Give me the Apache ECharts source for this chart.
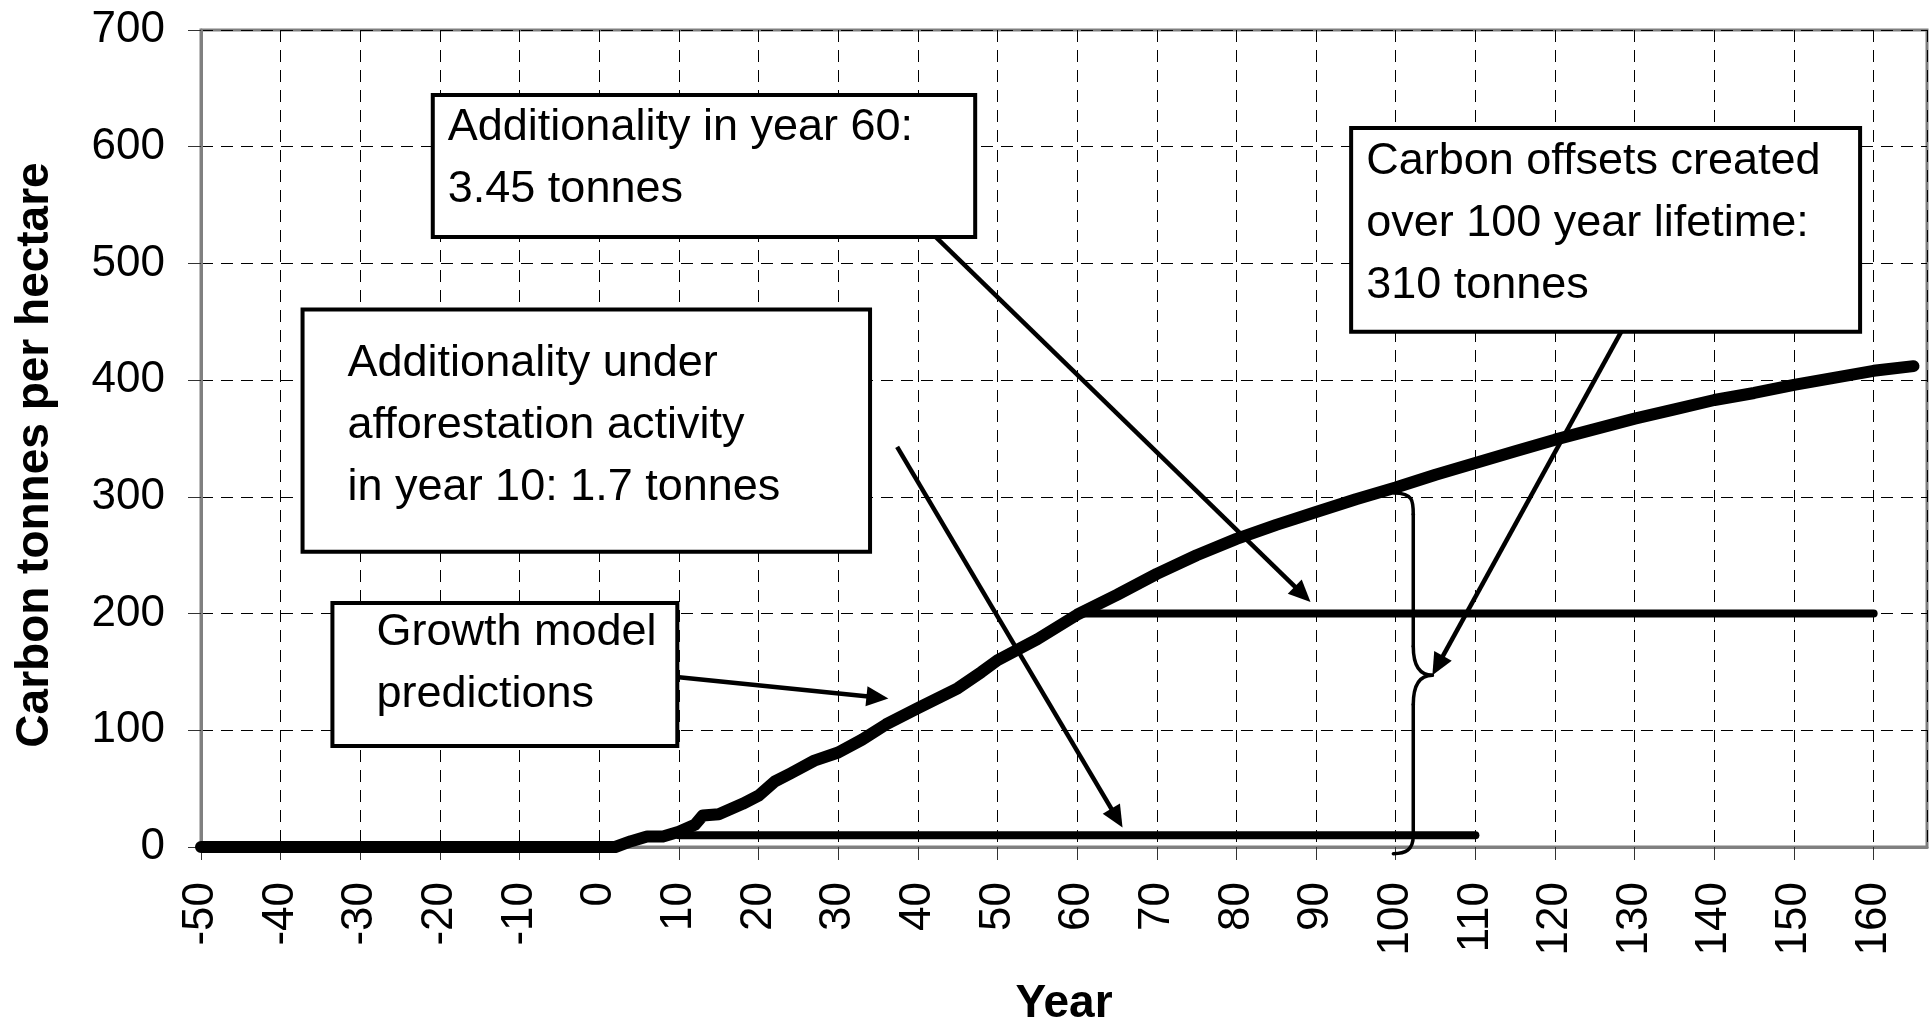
<!DOCTYPE html>
<html>
<head>
<meta charset="utf-8">
<title>Carbon tonnes per hectare</title>
<script src="https://cdn.jsdelivr.net/npm/echarts@6/dist/echarts.min.js"></script>
<style>
  html, body { margin: 0; padding: 0; background: #fff; }
  #chart { width: 1930px; height: 1024px; }
</style>
</head>
<body>
<div id="chart"></div>
<script>
// growth model predictions, carbon tonnes per hectare by year
var growthYears  = [-50, 2, 4, 6, 8, 10, 12, 13, 15, 18, 20, 22, 24, 27, 30, 33, 36, 40, 45, 48, 50, 55, 60, 65, 70, 75, 80, 85, 90, 95, 100, 105, 110, 115, 120, 125, 130, 135, 140, 145, 150, 155, 160, 165];
var growthCarbon = [0, 0, 5, 9, 9, 13, 19, 27, 28, 37, 44, 56, 63, 74, 81, 92, 105, 119, 136, 150, 160, 178, 199, 216, 234, 250, 264, 276, 287, 298, 308, 319, 329, 339, 349, 358, 367, 375, 383, 389, 396, 402, 408, 412];

// baseline started in year 10 and baseline started in year 60
var base10Years  = [10, 110];
var base10Carbon = [10, 10];
var base60Years  = [60, 160];
var base60Carbon = [200, 200];

// axes
var yearMin = -50, yearMax = 166.7, yearStep = 10;
var carbonMin = 0, carbonMax = 700, carbonStep = 100;

// annotation boxes, corners in data units [x1, yTop, x2, yBottom]
var notes = [
  { box: [-20.9, 644.3, 47.2, 522.6], pad: [15, 2],  lines: ['Additionality in year 60:', '3.45 tonnes'] },
  { box: [-37.25, 460.6, 34.0, 252.9], pad: [45, 23], lines: ['Additionality under', 'afforestation activity', 'in year 10: 1.7 tonnes'] },
  { box: [-33.5, 209.1, 9.8, 86.6],   pad: [44, -1], lines: ['Growth model', 'predictions'] },
  { box: [94.4, 616, 158.3, 441.4],   pad: [15, 3],  lines: ['Carbon offsets created', 'over 100 year lifetime:', '310 tonnes'] }
];
// arrows, [from, to] in data units
var arrows = [
  [[42.3, 522.3], [89.3, 210]],
  [[37.4, 342.9], [65.7, 16.7]],
  [[9.7, 145.7], [36.3, 127.2]],
  [[128.3, 441.4], [104.6, 147.2]]
];
// curly brace from curve at year 100 down to the baseline
var braceStart = [99.8, 303.4];
var braceSegs = [
  ['C', [102.2, 303.4], [102.2, 296], [102.2, 285]],
  ['L', [102.2, 172]],
  ['C', [102.2, 152], [103.4, 147.2], [104.6, 147.2]],
  ['C', [103.4, 147.2], [102.2, 142], [102.2, 122]],
  ['L', [102.2, 10]],
  ['C', [102.2, -3], [101.2, -5.7], [99.7, -5.7]]
];

var FONT = '"Liberation Sans", Arial, sans-serif';

function pairs(xs, ys) {
  var out = [];
  for (var i = 0; i < xs.length; i++) out.push([xs[i], ys[i]]);
  return out;
}

var chart = echarts.init(document.getElementById('chart'), null, { renderer: 'canvas' });

var thick = function (w) {
  return { color: '#000', width: w, cap: 'round', join: 'round' };
};

chart.setOption({
  backgroundColor: '#fff',
  animation: false,
  grid: {
    left: 201, right: 3, top: 30, bottom: 177,
    containLabel: false, outerBoundsMode: 'none',
    show: true, borderColor: '#808080', borderWidth: 3, backgroundColor: '#fff'
  },
  xAxis: {
    type: 'value', min: yearMin, max: yearMax, interval: yearStep,
    axisLine: { onZero: false, lineStyle: { color: '#808080', width: 3 } },
    axisTick: { length: 13, lineStyle: { color: '#333', width: 1 } },
    axisLabel: {
      rotate: 90, margin: 35, fontSize: 44, fontFamily: FONT, color: '#000',
      showMaxLabel: false,
      formatter: function (v) { return v % 10 === 0 ? String(v) : ''; }
    },
    splitLine: { show: true, lineStyle: { color: '#000', width: 1, type: [12, 8] } }
  },
  yAxis: {
    type: 'value', min: carbonMin, max: carbonMax, interval: carbonStep,
    axisLine: { show: true, onZero: false, lineStyle: { color: '#808080', width: 3 } },
    axisTick: { show: true, length: 13, lineStyle: { color: '#333', width: 1 } },
    axisLabel: { margin: 36, fontSize: 44, fontFamily: FONT, color: '#000' },
    splitLine: { show: true, lineStyle: { color: '#000', width: 1, type: [12, 8] } }
  },
  series: [
    { name: 'Growth model', type: 'line', clip: false, showSymbol: false, z: 5,
      data: pairs(growthYears, growthCarbon), lineStyle: thick(12) },
    { name: 'Baseline year 10', type: 'line', clip: false, showSymbol: false, z: 4,
      data: pairs(base10Years, base10Carbon), lineStyle: thick(8) },
    { name: 'Baseline year 60', type: 'line', clip: false, showSymbol: false, z: 4,
      data: pairs(base60Years, base60Carbon), lineStyle: thick(8) }
  ]
});

function px(p) {
  return chart.convertToPixel({ xAxisIndex: 0, yAxisIndex: 0 }, p);
}

var g = [];

notes.forEach(function (n) {
  var a = px([n.box[0], n.box[1]]), b = px([n.box[2], n.box[3]]);
  g.push({ type: 'rect', z: 100,
    shape: { x: a[0], y: a[1], width: b[0] - a[0], height: b[1] - a[1] },
    style: { fill: '#fff', stroke: '#000', lineWidth: 4 } });
  g.push({ type: 'text', z: 101, x: a[0] + n.pad[0], y: a[1] + n.pad[1],
    style: { text: n.lines.join('\n'), fontSize: 45, fontFamily: FONT, lineHeight: 62,
      fill: '#000', align: 'left', verticalAlign: 'top' } });
});

arrows.forEach(function (ar) {
  var s = px(ar[0]), t = px(ar[1]);
  var dx = t[0] - s[0], dy = t[1] - s[1], len = Math.sqrt(dx * dx + dy * dy);
  var ux = dx / len, uy = dy / len;
  var head = 22, half = 10;
  var bx = t[0] - ux * head, by = t[1] - uy * head;
  g.push({ type: 'line', z: 102,
    shape: { x1: s[0], y1: s[1], x2: bx + ux * 2, y2: by + uy * 2 },
    style: { stroke: '#000', lineWidth: 4.5 } });
  g.push({ type: 'polygon', z: 102,
    shape: { points: [[t[0], t[1]], [bx - uy * half, by + ux * half], [bx + uy * half, by - ux * half]] },
    style: { fill: '#000' } });
});

// brace pieces: straight runs and bezier curls
var cur = px(braceStart);
var braceStyle = { fill: null, stroke: '#000', lineWidth: 3.5, lineCap: 'round' };
braceSegs.forEach(function (sg) {
  if (sg[0] === 'L') {
    var e = px(sg[1]);
    g.push({ type: 'line', z: 102, shape: { x1: cur[0], y1: cur[1], x2: e[0], y2: e[1] }, style: braceStyle });
    cur = e;
  } else {
    var c1 = px(sg[1]), c2 = px(sg[2]), e2 = px(sg[3]);
    g.push({ type: 'bezierCurve', z: 102,
      shape: { x1: cur[0], y1: cur[1], cpx1: c1[0], cpy1: c1[1], cpx2: c2[0], cpy2: c2[1], x2: e2[0], y2: e2[1] },
      style: braceStyle });
    cur = e2;
  }
});

// axis titles
g.push({ type: 'text', z: 101, x: 35, y: 455, rotation: Math.PI / 2,
  style: { text: 'Carbon tonnes per hectare', fontSize: 46, fontWeight: 'bold', fontFamily: FONT,
    fill: '#000', align: 'center', verticalAlign: 'middle' } });
g.push({ type: 'text', z: 101, x: 1064, y: 1004,
  style: { text: 'Year', fontSize: 46, fontWeight: 'bold', fontFamily: FONT,
    fill: '#000', align: 'center', verticalAlign: 'middle' } });

chart.setOption({ graphic: g });

window.onresize = function () {
  chart.resize();
};
</script>
</body>
</html>
